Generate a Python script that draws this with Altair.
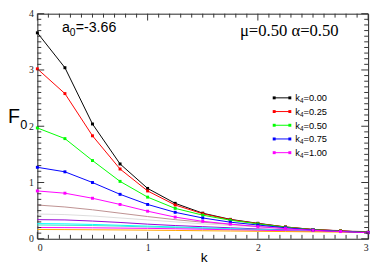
import altair as alt
import pandas as pd

# ---------------- data ----------------
k = [0.0, 0.25, 0.5, 0.75, 1.0, 1.25, 1.5, 1.75, 2.0, 2.25, 2.5, 2.75, 3.0]

main_names = ["k4=0.00", "k4=0.25", "k4=0.50", "k4=0.75", "k4=1.00"]
main_colors = ["#000000", "#ff0000", "#00ff00", "#0000ff", "#ff00ff"]
main_vals = [
    [3.66, 3.04, 2.04, 1.33, 0.895, 0.63, 0.455, 0.345, 0.275, 0.21, 0.165, 0.14, 0.115],
    [3.02, 2.58, 1.83, 1.24, 0.85, 0.60, 0.445, 0.34, 0.27, 0.21, 0.165, 0.14, 0.115],
    [1.97, 1.78, 1.39, 1.02, 0.74, 0.54, 0.42, 0.33, 0.265, 0.205, 0.16, 0.135, 0.113],
    [1.27, 1.19, 1.00, 0.79, 0.61, 0.47, 0.37, 0.295, 0.245, 0.195, 0.155, 0.13, 0.11],
    [0.85, 0.81, 0.72, 0.61, 0.49, 0.385, 0.31, 0.26, 0.215, 0.18, 0.15, 0.128, 0.108],
]

thin_names = ["t1", "t2", "t3", "t4", "t5", "t6", "t7"]
thin_colors = ["#bc8f8f", "#dcdcdc", "#9400d3", "#00ffff", "#40e0d0", "#ff00ff", "#ffa500"]
thin_vals = [
    [0.60, 0.565, 0.515, 0.455, 0.395, 0.34, 0.295, 0.255, 0.22, 0.19, 0.165, 0.145, 0.125],
    [0.44, 0.43, 0.405, 0.37, 0.335, 0.30, 0.265, 0.235, 0.21, 0.185, 0.16, 0.14, 0.125],
    [0.34, 0.335, 0.315, 0.29, 0.26, 0.235, 0.215, 0.195, 0.175, 0.16, 0.145, 0.13, 0.12],
    [0.27, 0.265, 0.255, 0.24, 0.225, 0.21, 0.195, 0.18, 0.165, 0.15, 0.14, 0.13, 0.12],
    [0.245, 0.24, 0.235, 0.225, 0.21, 0.20, 0.185, 0.17, 0.16, 0.148, 0.137, 0.127, 0.117],
    [0.20, 0.198, 0.195, 0.19, 0.185, 0.178, 0.17, 0.16, 0.152, 0.143, 0.135, 0.127, 0.118],
    [0.165, 0.163, 0.16, 0.157, 0.153, 0.148, 0.143, 0.138, 0.133, 0.128, 0.123, 0.118, 0.113],
]

legend_vals = ["=0.00", "=0.25", "=0.50", "=0.75", "=1.00"]

x_major = [0, 1, 2, 3]
y_major = [0, 1, 2, 3, 4]
x_minor = [i / 10 for i in range(31) if i % 10 != 0]
y_minor = [i / 10 for i in range(41) if i % 10 != 0]

# ---------------- layout ----------------
W, H = 338, 230
SERIF = "Liberation Serif"
SANS = "Liberation Sans"

rows = []
for name, vals in zip(main_names, main_vals):
    for kk, v in zip(k, vals):
        rows.append({"k": kk, "F": v, "series": name})
main_df = pd.DataFrame(rows)
rows = []
for name, vals in zip(thin_names, thin_vals):
    for kk, v in zip(k, vals):
        rows.append({"k": kk, "F": v, "series": name})
thin_df = pd.DataFrame(rows)

color_scale = alt.Scale(domain=main_names + thin_names, range=main_colors + thin_colors)
xs = alt.Scale(domain=[0, 3], nice=False)
ys = alt.Scale(domain=[0, 4], nice=False)

x_enc = alt.X("k:Q", scale=xs,
              axis=alt.Axis(values=x_major, format="d", labelFont=SERIF, labelFontSize=10,
                            labelColor="#222", labelPadding=4, ticks=False, tickSize=0,
                            domain=False, grid=False, title="k", titleFont=SANS,
                            titleFontSize=14, titleFontWeight="normal", titleColor="#000",
                            titleBaseline="alphabetic", titleY=23, titleX=170))
y_enc = alt.Y("F:Q", scale=ys,
              axis=alt.Axis(values=y_major, format="d", labelFont=SERIF, labelFontSize=10,
                            labelColor="#222", labelPadding=4, ticks=False, tickSize=0,
                            domain=False, grid=False, title=None))
c_enc = alt.Color("series:N", scale=color_scale, legend=None)

thin = alt.Chart(thin_df).mark_line(strokeWidth=1).encode(
    x=x_enc, y=y_enc, color=c_enc, detail="series:N")
lines = alt.Chart(main_df).mark_line(strokeWidth=1).encode(
    x=alt.X("k:Q", scale=xs), y=alt.Y("F:Q", scale=ys), color=c_enc, detail="series:N")
pts = alt.Chart(main_df).mark_point(shape="square", filled=True, size=9, opacity=1).encode(
    x=alt.X("k:Q", scale=xs), y=alt.Y("F:Q", scale=ys), color=c_enc)

# inward ticks on all four sides
def xticks(vals, length):
    df = pd.DataFrame({"k": vals})
    b = alt.Chart(df).mark_rule(color="#333", strokeWidth=1).encode(
        x=alt.X("k:Q", scale=xs), y=alt.value(H), y2=alt.value(H - length))
    t = alt.Chart(df).mark_rule(color="#333", strokeWidth=1).encode(
        x=alt.X("k:Q", scale=xs), y=alt.value(0), y2=alt.value(length))
    return [b, t]

def yticks(vals, length):
    df = pd.DataFrame({"F": vals})
    l = alt.Chart(df).mark_rule(color="#333", strokeWidth=1).encode(
        y=alt.Y("F:Q", scale=ys), x=alt.value(0), x2=alt.value(length))
    r = alt.Chart(df).mark_rule(color="#333", strokeWidth=1).encode(
        y=alt.Y("F:Q", scale=ys), x=alt.value(W), x2=alt.value(W - length))
    return [l, r]

ticks = xticks(x_major, 7) + xticks(x_minor, 4) + yticks(y_major, 7) + yticks(y_minor, 4)

def txt(s, x, y, size, font=SANS, dy=0, align="left"):
    return alt.Chart(pd.DataFrame({"t": [s]})).mark_text(
        align=align, baseline="alphabetic", font=font, fontSize=size, color="#000", dy=dy
    ).encode(x=alt.value(x), y=alt.value(y), text="t:N")

annos = [
    txt("a", 25.3, 19, 14.5),
    txt("0", 33.2, 22.5, 10.5),
    txt("=-3.66", 39.2, 19, 14.5),
    txt("\u03bc=0.50 \u03b1=0.50", 207, 22.5, 17, font=SERIF),
    txt("F", -30, 112, 20),
    txt("0", -17.5, 117.5, 13),
]

main = alt.layer(thin, lines, pts, *ticks, *annos)

# custom legend
leg_df = pd.DataFrame({"series": main_names, "val": legend_vals})
ly = alt.Y("series:N", scale=alt.Scale(type="point", domain=main_names, range=[86, 142], padding=0),
           axis=None)
leg_line = alt.Chart(leg_df).mark_rule(strokeWidth=1).encode(
    y=ly, x=alt.value(242), x2=alt.value(258), color=c_enc)
leg_p1 = alt.Chart(leg_df).mark_point(shape="square", filled=True, size=9, opacity=1).encode(
    y=ly, x=alt.value(242), color=c_enc)
leg_p2 = alt.Chart(leg_df).mark_point(shape="square", filled=True, size=9, opacity=1).encode(
    y=ly, x=alt.value(258), color=c_enc)
leg_k = alt.Chart(leg_df).mark_text(align="left", baseline="alphabetic", font=SANS,
                                     fontSize=9.5, dy=3.5, color="#000").encode(
    y=ly, x=alt.value(263.5), text=alt.value("k"))
leg_s = alt.Chart(leg_df).mark_text(align="left", baseline="alphabetic", font=SANS,
                                     fontSize=6.5, dy=5.5, color="#000").encode(
    y=ly, x=alt.value(268.3), text=alt.value("4"))
leg_v = alt.Chart(leg_df).mark_text(align="left", baseline="alphabetic", font=SANS,
                                     fontSize=9.5, dy=3.5, color="#000").encode(
    y=ly, x=alt.value(272), text="val:N")
legend = alt.layer(leg_line, leg_p1, leg_p2, leg_k, leg_s, leg_v)

chart = alt.layer(main, legend).resolve_scale(y="independent").properties(
    width=W, height=H,
    autosize=alt.AutoSizeParams(type="none"),
    padding={"left": 30, "top": 3, "right": 6, "bottom": 25},
    background="white",
).configure_view(stroke="#222", strokeWidth=1)

chart.save("out.html", embed_options={"renderer": "svg", "actions": False})
